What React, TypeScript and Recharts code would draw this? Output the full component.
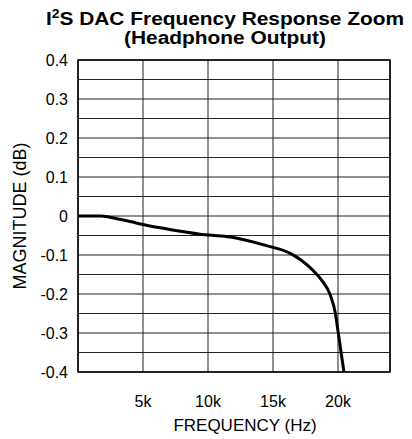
import { LineChart, Line, XAxis, YAxis, CartesianGrid, ReferenceLine, ReferenceArea } from "recharts";

// frequency (Hz) vs magnitude (dB)
const freqHz = [0, 1000, 1800, 3000, 4000, 5000, 7500, 10000, 11700, 12500, 14500, 16400, 17200, 18000, 18800, 19400, 19800, 20000, 20260, 20460];
const magDb = [0, 0, 0, -0.007, -0.014, -0.022, -0.037, -0.049, -0.054, -0.059, -0.076, -0.097, -0.114, -0.137, -0.167, -0.202, -0.25, -0.295, -0.355, -0.4];

const xTicks = [5000, 10000, 15000, 20000];
const yTicks = [-0.4, -0.3, -0.2, -0.1, 0, 0.1, 0.2, 0.3, 0.4];
const minorGrid = [-0.35, -0.25, -0.15, -0.05, 0.05, 0.15, 0.25, 0.35];

const data = freqHz.map((f, i) => ({ f, db: magDb[i] }));

const FONT = "'Liberation Sans', Arial, sans-serif";

function XTick({ x, y, payload }: any) {
  return (
    <text x={x} y={y} textAnchor="middle" dy="0.71em" fontSize={16} fontFamily={FONT} fill="#000">
      {payload.value / 1000 + "k"}
    </text>
  );
}

function YTick({ x, y, payload }: any) {
  return (
    <text x={x} y={y} textAnchor="end" dy="0.355em" fontSize={16} fontFamily={FONT} fill="#000">
      {payload.value}
    </text>
  );
}

const titleStyle: any = {
  position: "absolute",
  left: 0,
  width: 450,
  textAlign: "center",
  fontWeight: "bold",
  fontSize: 18,
  lineHeight: "18px",
  height: 18,
  color: "#000",
  transform: "scaleX(1.16)",
  transformOrigin: "225px 0",
  whiteSpace: "nowrap",
};

export default function App() {
  return (
    <div style={{ position: "absolute", left: 0, top: 0, width: 412, height: 439, background: "#fff", fontFamily: FONT }}>
      <div style={{ ...titleStyle, top: 10 }}>
        I<span style={{ fontSize: 12, position: "relative", top: -7 }}>2</span>S DAC Frequency Response Zoom
      </div>
      <div style={{ ...titleStyle, top: 28.5 }}>(Headphone Output)</div>
      <div style={{ position: "absolute", left: 20, top: 216, transform: "translate(-50%, -50%) rotate(-90deg)", whiteSpace: "nowrap", fontSize: 18, color: "#000" }}>
        MAGNITUDE (dB)
      </div>
      <div style={{ position: "absolute", left: 245, top: 426, transform: "translate(-50%, -50%)", whiteSpace: "nowrap", fontSize: 17, color: "#000" }}>
        FREQUENCY (Hz)
      </div>
      <LineChart width={412} height={439} data={data} margin={{ top: 60, right: 22, bottom: 0, left: 0 }}>
        <CartesianGrid stroke="#222" strokeWidth={1} />
        {minorGrid.map((v) => (
          <ReferenceLine key={v} y={v} stroke="#222" strokeWidth={1} />
        ))}
        <XAxis
          dataKey="f"
          type="number"
          domain={[0, 24000]}
          ticks={xTicks}
          height={67}
          axisLine={false}
          tickLine={false}
          tickSize={0}
          tickMargin={24}
          tick={<XTick />}
          allowDataOverflow
        />
        <YAxis
          type="number"
          domain={[-0.4, 0.4]}
          ticks={yTicks}
          width={78}
          axisLine={false}
          tickLine={false}
          tickSize={0}
          tickMargin={10}
          tick={<YTick />}
          allowDataOverflow
        />
        <ReferenceArea x1={0} x2={24000} y1={-0.4} y2={0.4} fill="none" stroke="#000" strokeWidth={1.5} />
        <Line dataKey="db" type="monotone" stroke="#000" strokeWidth={3} dot={false} isAnimationActive={false} />
      </LineChart>
    </div>
  );
}
